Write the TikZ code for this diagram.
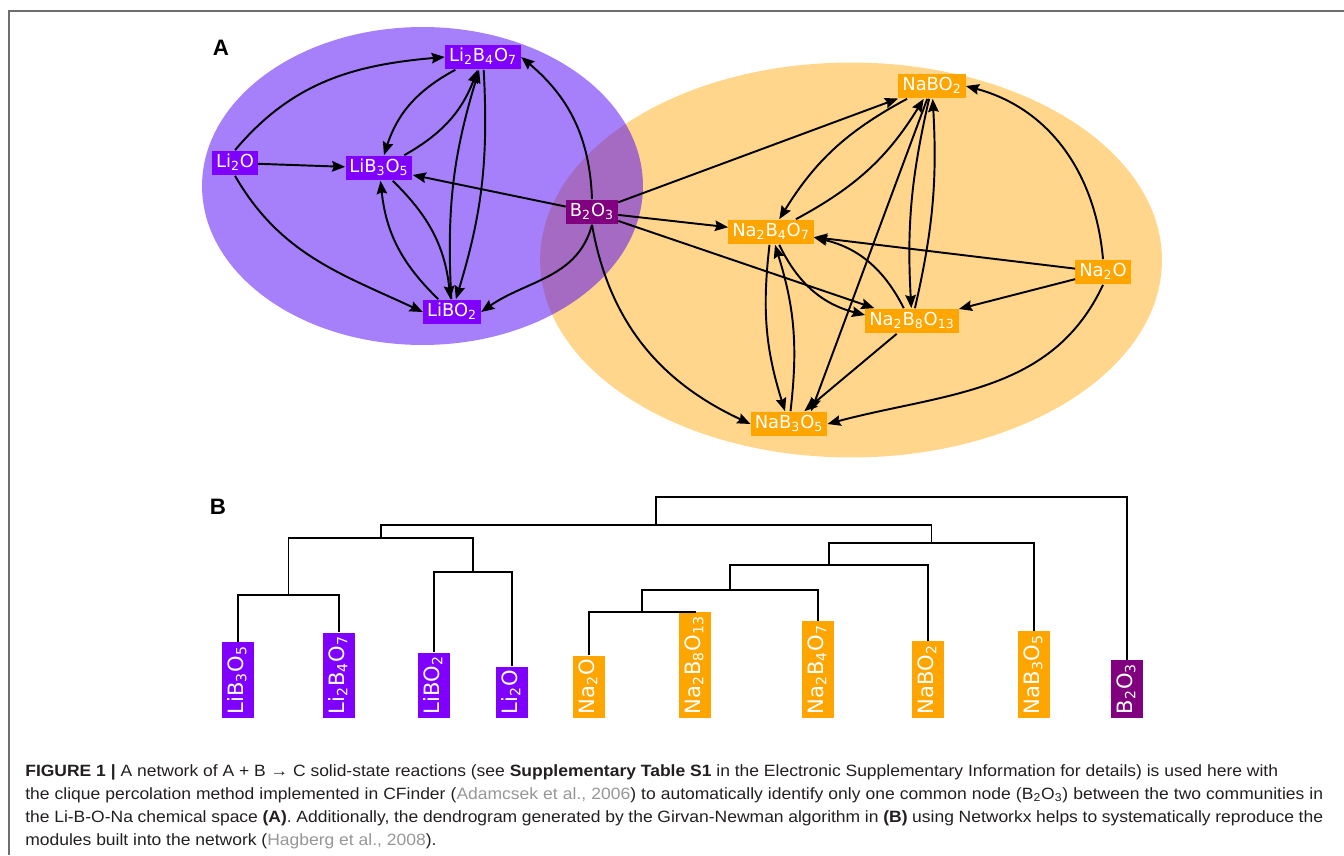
\documentclass[tikz,border=0pt]{standalone}
\usepackage{fontspec}
\setmainfont{Liberation Sans}
\newfontfamily\dejavu{DejaVu Sans}
\newfontfamily\capfont[FakeStretch=1.07]{Liberation Sans}
\usepackage{xcolor}
\usepackage{tikz}
\usetikzlibrary{arrows.meta}

\definecolor{livio}{RGB}{127,0,255}
\definecolor{naorg}{RGB}{255,165,0}
\definecolor{bmag}{RGB}{128,0,128}
\definecolor{liblob}{RGB}{77,0,245}
\definecolor{capgray}{RGB}{150,150,150}
\definecolor{captext}{RGB}{35,31,32}
\definecolor{framegray}{RGB}{110,110,110}

\begin{document}
\begin{tikzpicture}[
x=0.02cm, y=-0.02cm,
box/.style={font=\dejavu\fontsize{10.2}{12}\selectfont, text=white, inner xsep=2.2pt, inner ysep=2pt, text height=7.6pt, text depth=2.6pt},
li/.style={box, fill=livio},
na/.style={box, fill=naorg},
bo/.style={box, fill=bmag},
leaf/.style={font=\dejavu\fontsize{12}{14}\selectfont, text=white, rotate=90, anchor=west, inner xsep=2pt, inner ysep=3pt, text height=9pt, text depth=3pt},
arrow/.style={-{Stealth[length=7.5pt, width=6pt, inset=1pt]}, line width=1.1pt},
tree/.style={line width=1.1pt},
panel/.style={font=\fontsize{12.7}{15}\selectfont\bfseries},
captxt/.style={anchor=base west, inner sep=0pt, text=captext, font=\capfont\fontsize{9.3}{11}\selectfont}
]
\useasboundingbox (0,0) rectangle (1344,855);
\draw[framegray, line width=1.2pt] (9,855) -- (9,11) -- (1344,11);

\fill[naorg, fill opacity=0.45] (851,260) ellipse [x radius=6.22cm, y radius=3.95cm];
\fill[liblob, fill opacity=0.5] (422.5,186) ellipse [x radius=4.41cm, y radius=3.18cm];

\node[panel] (la) at (221,48) {A};
\node[li] (li2b4o7) at (483,57) {Li\textsubscript{2}B\textsubscript{4}O\textsubscript{7}};
\node[li] (li2o) at (235,163) {Li\textsubscript{2}O};
\node[li] (lib3o5) at (379,168) {LiB\textsubscript{3}O\textsubscript{5}};
\node[li] (libo2) at (452,312) {LiBO\textsubscript{2}};
\node[bo] (b2o3) at (592,212) {B\textsubscript{2}O\textsubscript{3}};
\node[na] (nabo2) at (932,86) {NaBO\textsubscript{2}};
\node[na] (na2b4o7) at (771,232) {Na\textsubscript{2}B\textsubscript{4}O\textsubscript{7}};
\node[na] (na2o) at (1103,272) {Na\textsubscript{2}O};
\node[na] (na2b8o13) at (912,321) {Na\textsubscript{2}B\textsubscript{8}O\textsubscript{13}};
\node[na] (nab3o5) at (789,424) {NaB\textsubscript{3}O\textsubscript{5}};

\draw[arrow] (li2o.north) to[out=50,in=185] (li2b4o7.west);
\draw[arrow] (li2o) -- (lib3o5);
\draw[arrow] (li2o.south) to[out=-60,in=155] (libo2.west);
\draw[arrow] (li2b4o7) to[bend right=22] (lib3o5);
\draw[arrow] (lib3o5) to[bend right=20] (li2b4o7);
\draw[arrow] (libo2) to[bend left=10] (li2b4o7);
\draw[arrow] (li2b4o7) to[bend left=10] (libo2);
\draw[arrow] (libo2) to[bend left=20] (lib3o5);
\draw[arrow] (lib3o5) to[bend left=20] (libo2);
\draw[arrow] (b2o3.north) to[out=92,in=-40] (li2b4o7.east);
\draw[arrow] (b2o3) -- (lib3o5);
\draw[arrow] (b2o3.south) to[out=-105,in=35] (libo2.east);

\draw[arrow] (b2o3) -- (nabo2);
\draw[arrow] (b2o3) -- (na2b4o7);
\draw[arrow] (b2o3) -- (na2b8o13);
\draw[arrow] (b2o3.south) to[out=-80,in=155] (nab3o5.west);
\draw[arrow] (nabo2) to[bend right=15] (na2b4o7);
\draw[arrow] (na2b4o7) to[bend right=15] (nabo2);
\draw[arrow] (nabo2) -- (nab3o5.30);
\draw[arrow] (nabo2) to[bend right=8] (na2b8o13);
\draw[arrow] (na2b8o13) to[bend right=8] (nabo2);
\draw[arrow] (na2o.north) to[out=95,in=-15] (nabo2.east);
\draw[arrow] (na2o) -- (na2b4o7);
\draw[arrow] (na2o) -- (na2b8o13);
\draw[arrow] (na2o.south) to[out=-115,in=15] (nab3o5.east);
\draw[arrow] (na2b4o7) to[bend right=25] (na2b8o13);
\draw[arrow] (na2b8o13) to[bend right=25] (na2b4o7);
\draw[arrow] (na2b4o7) to[bend right=12] (nab3o5);
\draw[arrow] (nab3o5) to[bend right=12] (na2b4o7);
\draw[arrow] (na2b8o13) -- (nab3o5);

\node[panel] (lb) at (218,507) {B};
\node[leaf, fill=livio] (dlib3o5) at (238,718) {LiB\textsubscript{3}O\textsubscript{5}};
\node[leaf, fill=livio] (dli2b4o7) at (339,718) {Li\textsubscript{2}B\textsubscript{4}O\textsubscript{7}};
\node[leaf, fill=livio] (dlibo2) at (434,718) {LiBO\textsubscript{2}};
\node[leaf, fill=livio] (dli2o) at (512,718) {Li\textsubscript{2}O};
\node[leaf, fill=naorg] (dna2o) at (589,718) {Na\textsubscript{2}O};
\node[leaf, fill=naorg] (dna2b8o13) at (695,718) {Na\textsubscript{2}B\textsubscript{8}O\textsubscript{13}};
\node[leaf, fill=naorg] (dna2b4o7) at (818,718) {Na\textsubscript{2}B\textsubscript{4}O\textsubscript{7}};
\node[leaf, fill=naorg] (dnabo2) at (928,718) {NaBO\textsubscript{2}};
\node[leaf, fill=naorg] (dnab3o5) at (1034,718) {NaB\textsubscript{3}O\textsubscript{5}};
\node[leaf, fill=bmag] (db2o3) at (1127,718) {B\textsubscript{2}O\textsubscript{3}};

\coordinate (j1) at (288.5,595);
\coordinate (j2) at (473,572);
\coordinate (j3) at (380.75,538);
\coordinate (j4) at (642,612);
\coordinate (j5) at (730,590);
\coordinate (j6) at (829,565);
\coordinate (j7) at (931.5,543);
\coordinate (j8) at (656,525);
\coordinate (j9) at (891.5,497);
\draw[tree] (dlib3o5.east) |- (j1) -| (dli2b4o7.east);
\draw[tree] (dlibo2.east) |- (j2) -| (dli2o.east);
\draw[tree] (j1) |- (j3) -| (j2);
\draw[tree] (dna2o.east) |- (j4) -| (dna2b8o13.east);
\draw[tree] (j4) |- (j5) -| (dna2b4o7.east);
\draw[tree] (j5) |- (j6) -| (dnabo2.east);
\draw[tree] (j6) |- (j7) -| (dnab3o5.east);
\draw[tree] (j3) |- (j8) -| (j7);
\draw[tree] (j8) |- (j9) -| (db2o3.east);

\node[captxt] (cap1) at (25,776) {\textbf{FIGURE 1 |} A network of A + B → C solid-state reactions (see \textbf{Supplementary Table S1} in the Electronic Supplementary Information for details) is used here with};
\node[captxt] (cap2) at (25,799) {\makebox[25.96cm][s]{the clique percolation method implemented in CFinder ({\color{capgray}Adamcsek et al., 2006}) to automatically identify only one common node (B\textsubscript{2}O\textsubscript{3}) between the two communities in}};
\node[captxt] (cap3) at (25,822) {\makebox[25.96cm][s]{the Li-B-O-Na chemical space \textbf{(A)}. Additionally, the dendrogram generated by the Girvan-Newman algorithm in \textbf{(B)} using Networkx helps to systematically reproduce the}};
\node[captxt] (cap4) at (25,845) {modules built into the network ({\color{capgray}Hagberg et al., 2008}).};
\end{tikzpicture}
\end{document}
